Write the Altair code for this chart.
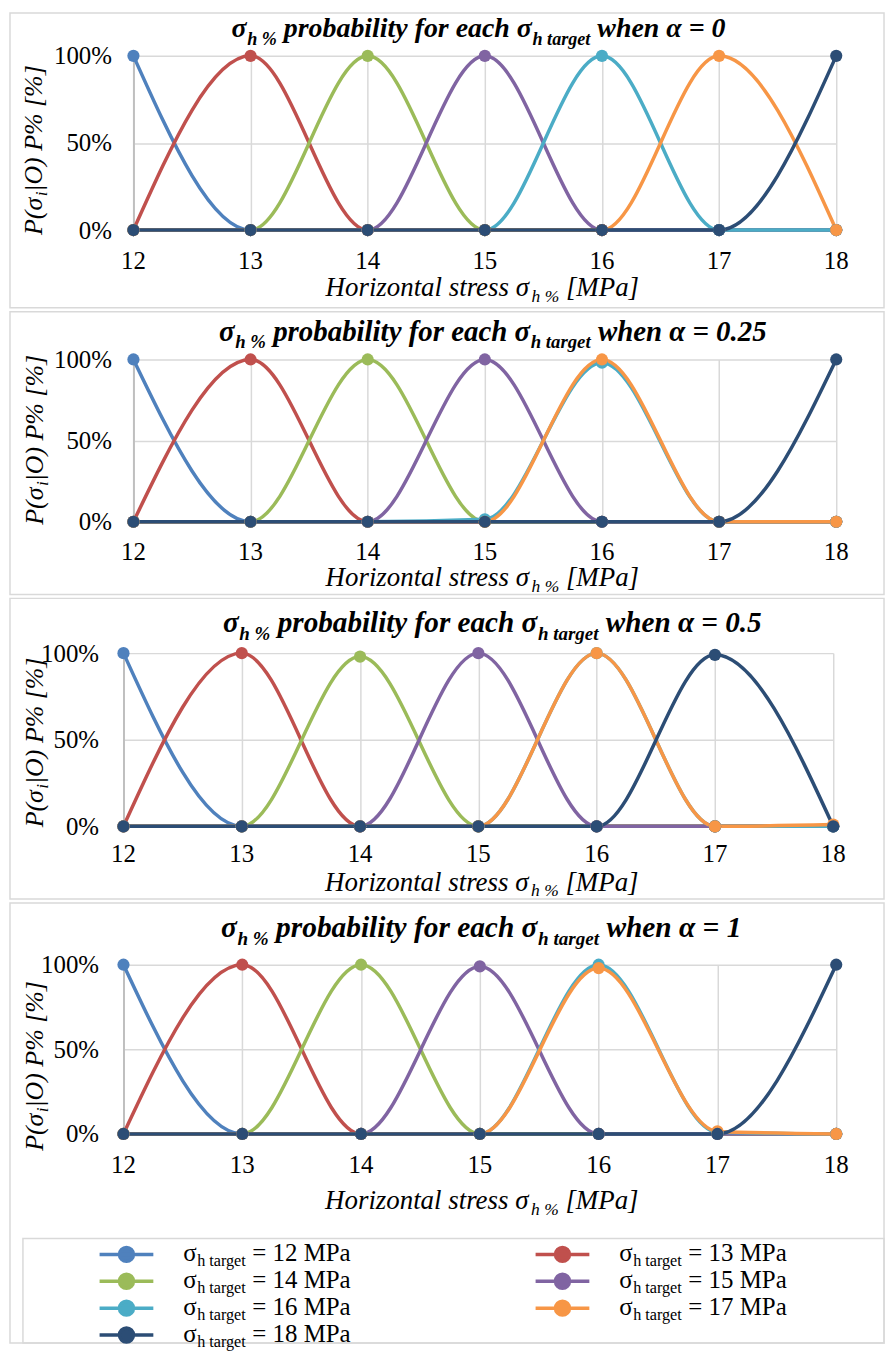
import altair as alt
import pandas as pd

# ---------------- data ----------------
x_values = [12, 13, 14, 15, 16, 17, 18]
targets = ["12", "13", "14", "15", "16", "17", "18"]
colors = ["#4F81BD", "#C0504D", "#9BBB59", "#8064A2", "#4BACC6", "#F79646", "#2C4D75"]
alpha_labels = ["0", "0.25", "0.5", "1"]

# P [%] for each sigma_h target (rows, 12..18) at each x value (columns, 12..18)
p_alpha_0 = [
    [100, 0, 0, 0, 0, 0, 0],
    [0, 100, 0, 0, 0, 0, 0],
    [0, 0, 100, 0, 0, 0, 0],
    [0, 0, 0, 100, 0, 0, 0],
    [0, 0, 0, 0, 100, 0, 0],
    [0, 0, 0, 0, 0, 100, 0],
    [0, 0, 0, 0, 0, 0, 100],
]
p_alpha_025 = [
    [100, 0, 0, 0, 0, 0, 0],
    [0, 100, 0, 0, 0, 0, 0],
    [0, 0, 100, 0, 0, 0, 0],
    [0, 0, 0, 100, 0, 0, 0],
    [0, 0, 0, 1.5, 98, 0, 0],
    [0, 0, 0, 0, 100, 0, 0],
    [0, 0, 0, 0, 0, 0, 100],
]
p_alpha_05 = [
    [100, 0, 0, 0, 0, 0, 0],
    [0, 100, 0, 0, 0, 0, 0],
    [0, 0, 98, 0, 0, 0, 0],
    [0, 0, 0, 100, 0, 0, 0],
    [0, 0, 0, 0, 100, 0, 0],
    [0, 0, 0, 0, 100, 0, 1],
    [0, 0, 0, 0, 0, 99, 0],
]
p_alpha_1 = [
    [100, 0, 0, 0, 0, 0, 0],
    [0, 100, 0, 0, 0, 0, 0],
    [0, 0, 100, 0, 0, 0, 0],
    [0, 0, 0, 99, 0, 0, 0],
    [0, 0, 0, 0, 100, 1, 0],
    [0, 0, 0, 0, 98, 1.5, 0],
    [0, 0, 0, 0, 0, 0, 100],
]
panel_values = [p_alpha_0, p_alpha_025, p_alpha_05, p_alpha_1]

legend_col = [0, 1, 0, 1, 0, 1, 0]
legend_row = [0, 0, 1, 1, 2, 2, 3]

# ---------------- styling / layout ----------------
FONT = "Liberation Serif, Tinos, 'Times New Roman', 'DejaVu Serif', serif"
GRID = "#d9d9d9"
SUB = 0.65

BI = {' ': 250, '%': 833, '.': 250, '=': 570, 'a': 500, 'b': 500, 'c': 444, 'e': 444, 'f': 333,
      'g': 500, 'h': 556, 'i': 278, 'l': 278, 'n': 556, 'o': 500, 'p': 500, 'r': 389, 't': 278,
      'w': 667, 'y': 444, 'σ': 560, 'α': 560}
IT = {' ': 250, 'H': 722, 'M': 833, 'P': 611, 'O': 722, 'a': 500, 'e': 444, 'h': 500, 'i': 278,
      'l': 278, 'n': 500, 'o': 500, 'r': 389, 's': 389, 't': 278, 'z': 389, '%': 833, '[': 389,
      ']': 389, '(': 333, ')': 333, '|': 275, 'σ': 550}
RM = {' ': 250, '=': 564, 'M': 889, 'P': 556, 'a': 444, 'h': 500, 't': 278, 'r': 333, 'g': 500,
      'e': 444, 'σ': 560}


def tw(txt, table, size):
    return sum(table.get(c, 500) for c in txt) / 1000.0 * size


one = pd.DataFrame({"k": [0]})


def segments(segs, x0, y0, F, table, weight, style, vertical=False):
    out = []
    pos = 0.0
    for txt, sf, shift in segs:
        size = F * sf
        lead = len(txt) - len(txt.lstrip(' '))
        body = txt.strip(' ')
        off = pos + lead * table[' '] / 1000.0 * size
        if vertical:
            x, y, ang = x0 + shift * F, y0 - off, 270
        else:
            x, y, ang = x0 + off, y0 + shift * F, 0
        out.append(
            alt.Chart(one).mark_text(
                align="left", baseline="alphabetic", font=FONT, fontSize=size,
                fontWeight=weight, fontStyle=style, color="black", angle=ang,
            ).encode(x=alt.value(x), y=alt.value(y), text=alt.value(body))
        )
        pos += tw(txt, table, size)
    return out


cfgs = [
    dict(w=706, h=175, top=43, bottom=78, xshift=0, right=706, lpad=22, tick=31,
         tx=98.6, ty=-18.5, tF=28, ytx=-92, yty=180, xtc=350.5, xty=66.5),
    dict(w=706, h=163, top=48, bottom=73, xshift=0, right=706, lpad=22, tick=30,
         tx=86, ty=-19, tF=29, ytx=-91, yty=166, xtc=350.5, xty=65),
    dict(w=706, h=174, top=55, bottom=73, xshift=10, right=703, lpad=25, tick=28,
         tx=90, ty=-21, tF=29.3, ytx=-91, yty=175, xtc=350, xty=64.5),
    dict(w=706, h=170, top=62, bottom=210, xshift=10, right=706, lpad=25, tick=31,
         tx=88, ty=-28, tF=29.5, ytx=-91, yty=187, xtc=350, xty=75),
]
LEFT = 124
RIGHT = 754

LEG_PATH = ("M-1,0L1,0M0.26,0A0.26,0.26,0,1,1,-0.26,0A0.26,0.26,0,1,1,0.26,0Z")


def make_panel(i):
    c = cfgs[i]
    vals = panel_values[i]
    rows = []
    for t, series in zip(targets, vals):
        for xv, v in zip(x_values, series):
            rows.append({"target": t, "x": xv, "p": v / 100.0})
    df = pd.DataFrame(rows)

    xscale = alt.Scale(domain=[12, 18], nice=False, zero=False,
                       range=[-c["xshift"], c["right"]])
    xs = alt.X("x:Q", scale=xscale,
               axis=alt.Axis(values=x_values, title=None, grid=True, domain=False,
                             ticks=False, labels=False))
    ys = alt.Y("p:Q", scale=alt.Scale(domain=[0, 1], nice=False),
               axis=alt.Axis(values=[0, 0.5, 1], format=".0%", title=None, grid=True,
                             domain=True, domainColor="#bfbfbf", domainWidth=2, ticks=False,
                             offset=c["xshift"], labelPadding=c["lpad"], labelFont=FONT,
                             labelFontSize=25))
    col = alt.Color("target:N", scale=alt.Scale(domain=targets, range=colors), legend=None)

    base = alt.Chart(df)
    lines = base.mark_line(interpolate="monotone", strokeWidth=3.5).encode(x=xs, y=ys, color=col)
    points = base.mark_circle(size=150, opacity=1).encode(x=xs, y=ys, color=col)
    xlab = alt.Chart(pd.DataFrame({"x": x_values})).mark_text(
        font=FONT, fontSize=25, color="black", baseline="middle", align="center"
    ).encode(x=alt.X("x:Q", scale=xscale),
             y=alt.value(c["h"] + c["tick"]), text=alt.Text("x:Q", format="d"))
    main = alt.layer(lines, points, xlab)

    border = alt.Chart(one).mark_rect(fillOpacity=0, stroke=GRID, strokeWidth=1.5).encode(
        x=alt.value(-LEFT), x2=alt.value(RIGHT),
        y=alt.value(-c["top"]), y2=alt.value(c["h"] + c["bottom"]))

    title_segs = [("σ", 1, 0), ("h %", SUB, 0.27), (" probability for each σ", 1, 0),
                  ("h target", SUB, 0.27), (" when α = " + alpha_labels[i], 1, 0)]
    titles = segments(title_segs, c["tx"], c["ty"], c["tF"], BI, "bold", "italic")

    XF = 27
    xsegs = [("Horizontal stress σ", 1, 0), ("h %", SUB, 0.22), (" [MPa]", 1, 0)]
    xw = sum(tw(t, IT, XF * sf) for t, sf, _ in xsegs)
    xtitle = segments(xsegs, c["xtc"] - xw / 2, c["h"] + c["xty"], XF, IT, "normal", "italic")

    YF = 26
    ysegs = [("P(σ", 1, 0), ("i", SUB, 0.2), ("|O) P% [%]", 1, 0)]
    ytitle = segments(ysegs, c["ytx"], c["yty"], YF, IT, "normal", "italic", vertical=True)

    layers = [border, main] + titles + xtitle + ytitle

    if i == 3:
        ldf = pd.DataFrame({"target": targets, "col": legend_col, "row": legend_row,
                            "label": ["= %s MPa" % t for t in targets]})
        lx = alt.X("col:Q", scale=alt.Scale(domain=[0, 1], range=[-7, 431]), axis=None)
        ly = alt.Y("row:Q", scale=alt.Scale(domain=[0, 3], range=[291, 372]), axis=None)
        lbase = alt.Chart(ldf)
        lborder = alt.Chart(one).mark_rect(fillOpacity=0, stroke=GRID, strokeWidth=1.5).encode(
            x=alt.value(-111), x2=alt.value(RIGHT), y=alt.value(275), y2=alt.value(c["h"] + c["bottom"]))
        sym = lbase.mark_point(shape=LEG_PATH, size=2916, filled=True, opacity=1,
                               strokeWidth=3.5).encode(
            x=lx, y=ly,
            color=alt.Color("target:N", scale=alt.Scale(domain=targets, range=colors), legend=None),
            stroke=alt.Stroke("target:N", scale=alt.Scale(domain=targets, range=colors), legend=None))
        LF = 25
        w_sig = tw("σ", RM, LF)
        w_sub = tw("h target", RM, LF * SUB)
        w_sp = tw(" ", RM, LF)
        t1 = lbase.mark_text(align="left", baseline="alphabetic", font=FONT, fontSize=LF,
                             color="black", dx=57, dy=7).encode(x=lx, y=ly, text=alt.value("σ"))
        t2 = lbase.mark_text(align="left", baseline="alphabetic", font=FONT, fontSize=LF * SUB,
                             color="black", dx=57 + w_sig, dy=7 + 0.2 * LF).encode(
            x=lx, y=ly, text=alt.value("h target"))
        t3 = lbase.mark_text(align="left", baseline="alphabetic", font=FONT, fontSize=LF,
                             color="black", dx=57 + w_sig + w_sub + w_sp, dy=7).encode(
            x=lx, y=ly, text="label:N")
        layers += [lborder, sym, t1, t2, t3]
        ch = alt.layer(*layers).resolve_scale(x="independent", y="independent")
    else:
        ch = alt.layer(*layers)
    return ch.properties(width=c["w"], height=c["h"])


chart = alt.vconcat(*[make_panel(i) for i in range(4)], spacing=0).properties(
    padding=0
).configure_view(stroke="transparent").configure_axis(
    labelFont=FONT, labelFontSize=25, labelColor="black", gridColor=GRID, gridWidth=1.5
)

chart.save("out.html", embed_options={"renderer": "svg", "actions": False})
